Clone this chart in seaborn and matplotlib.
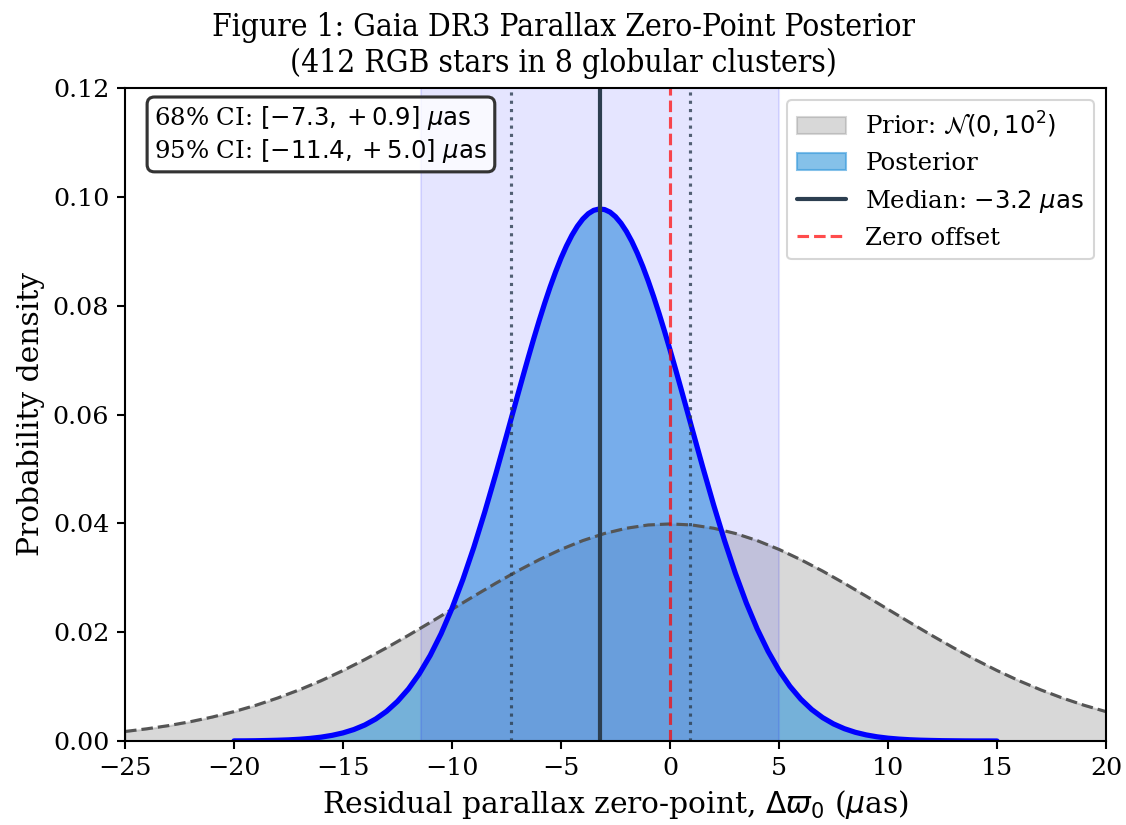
import numpy as np
import pandas as pd
import matplotlib
matplotlib.use("Agg")
import matplotlib.pyplot as plt
import seaborn as sns

# ---- data ----
prior_x = [-25, -24, -23, -22, -21, -20, -19, -18, -17, -16, -15, -14, -13, -12, -11,
           -10, -9, -8, -7, -6, -5, -4, -3, -2, -1, 0, 1, 2, 3, 4, 5, 6, 7, 8, 9,
           10, 11, 12, 13, 14, 15, 16, 17, 18, 19, 20]
prior_y = [0.00175, 0.00224, 0.00283, 0.00355, 0.00440, 0.00540, 0.00656, 0.00790,
           0.00941, 0.01109, 0.01295, 0.01497, 0.01714, 0.01942, 0.02179, 0.02420,
           0.02661, 0.02897, 0.03123, 0.03332, 0.03521, 0.03683, 0.03814, 0.03910,
           0.03970, 0.03989, 0.03970, 0.03910, 0.03814, 0.03683, 0.03521, 0.03332,
           0.03123, 0.02897, 0.02661, 0.02420, 0.02179, 0.01942, 0.01714, 0.01497,
           0.01295, 0.01109, 0.00941, 0.00790, 0.00656, 0.00540]

post_x = [-20.0, -19.5, -19.0, -18.5, -18.0, -17.5, -17.0, -16.5, -16.0, -15.5, -15.0,
          -14.5, -14.0, -13.5, -13.0, -12.5, -12.0, -11.5, -11.0, -10.5, -10.0, -9.5,
          -9.0, -8.5, -8.0, -7.5, -7.0, -6.75, -6.5, -6.25, -6.0, -5.75, -5.5, -5.25,
          -5.0, -4.75, -4.5, -4.25, -4.0, -3.75, -3.5, -3.25, -3.0, -2.75, -2.5,
          -2.25, -2.0, -1.75, -1.5, -1.25, -1.0, -0.75, -0.5, -0.25, 0.0, 0.25,
          0.5, 0.75, 1.0, 1.5, 2.0, 2.5, 3.0,
          3.5, 4.0, 4.5, 5.0, 5.5, 6.0, 6.5, 7.0, 7.5, 8.0, 8.5, 9.0, 9.5, 10.0,
          10.5, 11.0, 11.5, 12.0, 12.5, 13.0, 13.5, 14.0, 14.5, 15.0]
post_y = [0.00002, 0.00003, 0.00005, 0.00009, 0.00014, 0.00021, 0.00032, 0.00048,
          0.00071, 0.00104, 0.00149, 0.00211, 0.00294, 0.00404, 0.00546, 0.00728,
          0.00955, 0.01235, 0.01572, 0.01972, 0.02438, 0.02969, 0.03559, 0.04205,
          0.04894, 0.05611, 0.06337, 0.06696, 0.07050, 0.07395, 0.07727, 0.08043,
          0.08342, 0.08618, 0.08872, 0.09097, 0.09294, 0.09459, 0.09592, 0.09690,
          0.09752, 0.09777, 0.09766, 0.09719, 0.09635, 0.09516, 0.09364, 0.09180,
          0.08965, 0.08723, 0.08455, 0.08165, 0.07855, 0.07529, 0.07189, 0.06839,
          0.06481, 0.06120, 0.05756, 0.05036, 0.04340, 0.03684, 0.03081, 0.02538,
          0.02060, 0.01648, 0.01298, 0.01006, 0.00769, 0.00579, 0.00430, 0.00314,
          0.00226, 0.00160, 0.00112, 0.00077, 0.00052, 0.00035, 0.00023, 0.00015,
          0.00010, 0.00006, 0.00004, 0.00002, 0.00001, 0.00001, 0.00000]

median = -3.2
ci68 = [-7.3, 0.9]
ci95 = [-11.4, 5.0]

xticks = [-25, -20, -15, -10, -5, 0, 5, 10, 15, 20]
yticks = [0.00, 0.02, 0.04, 0.06, 0.08, 0.10, 0.12]

prior_df = pd.DataFrame({"x": prior_x, "y": prior_y})
post_df = pd.DataFrame({"x": post_x, "y": post_y})

# ---- style ----
sns.set_style("ticks")
plt.rcParams["font.family"] = ["DejaVu Serif"]
plt.rcParams["mathtext.fontset"] = "dejavusans"
for k in ["text.color", "axes.labelcolor", "xtick.color", "ytick.color",
          "axes.edgecolor"]:
    plt.rcParams[k] = "black"

fig = plt.figure(figsize=(1126 / 150, 825 / 150), dpi=150)
ax = fig.add_axes([125 / 1126, 1 - 741 / 825, (1106 - 125) / 1126, (741 - 88) / 825])

# fills
ax.fill_between(prior_df["x"], prior_df["y"], color="gray", alpha=0.3,
                label=r"Prior: $\mathcal{N}(0, 10^2)$")
ax.fill_between(post_df["x"], post_df["y"], color="#3498db", alpha=0.6,
                label="Posterior")
# 95% CI band
ax.axvspan(ci95[0], ci95[1], color="blue", alpha=0.1)

# curves
sns.lineplot(data=prior_df, x="x", y="y", ax=ax, color="#555555", lw=1.5,
             linestyle="--")
sns.lineplot(data=post_df, x="x", y="y", ax=ax, color="blue", lw=2.5)

ax.axvline(median, color="#2c3e50", lw=2, label=r"Median: $-3.2\ \mu\mathrm{as}$")
for c in ci68:
    ax.axvline(c, color="#2c3e50", lw=1.5, ls=":", alpha=0.8)
ax.axvline(0, color="red", lw=1.5, ls="--", alpha=0.7, label="Zero offset")

ax.set_xlim(-25, 20)
ax.set_ylim(0, 0.12)
ax.set_xticks(xticks)
ax.set_yticks(yticks)
ax.set_yticklabels([f"{v:.2f}" for v in yticks])
ax.tick_params(labelsize=12.2, length=4, width=1.0)
for s in ax.spines.values():
    s.set_linewidth(1.0)
    s.set_color("black")

ax.set_xlabel(r"Residual parallax zero-point, $\Delta\varpi_0$ ($\mu$as)", fontsize=14.3)
ax.set_ylabel("Probability density", fontsize=14.3)

fig.suptitle("Figure 1: Gaia DR3 Parallax Zero-Point Posterior\n"
             "(412 RGB stars in 8 globular clusters)", fontsize=15.2,
             fontstretch="condensed", y=0.985)

# handles order
handles, labels = ax.get_legend_handles_labels()
order = [labels.index(l) for l in [r"Prior: $\mathcal{N}(0, 10^2)$", "Posterior",
                                     r"Median: $-3.2\ \mu\mathrm{as}$", "Zero offset"]]
ax.legend([handles[i] for i in order], [labels[i] for i in order],
          loc="upper right", fontsize=11.7, frameon=True)

txt = ("68% CI: $[-7.3, +0.9]\\ \\mu\\mathrm{as}$\n"
       "95% CI: $[-11.4, +5.0]\\ \\mu\\mathrm{as}$")
ax.text(0.03, 0.975, txt, transform=ax.transAxes, fontsize=11.7, va="top", ha="left",
        bbox=dict(boxstyle="round,pad=0.3", facecolor=(1, 1, 1, 0.8),
                  edgecolor="#333333", lw=1.5))

fig.savefig("out.png", dpi=150)
